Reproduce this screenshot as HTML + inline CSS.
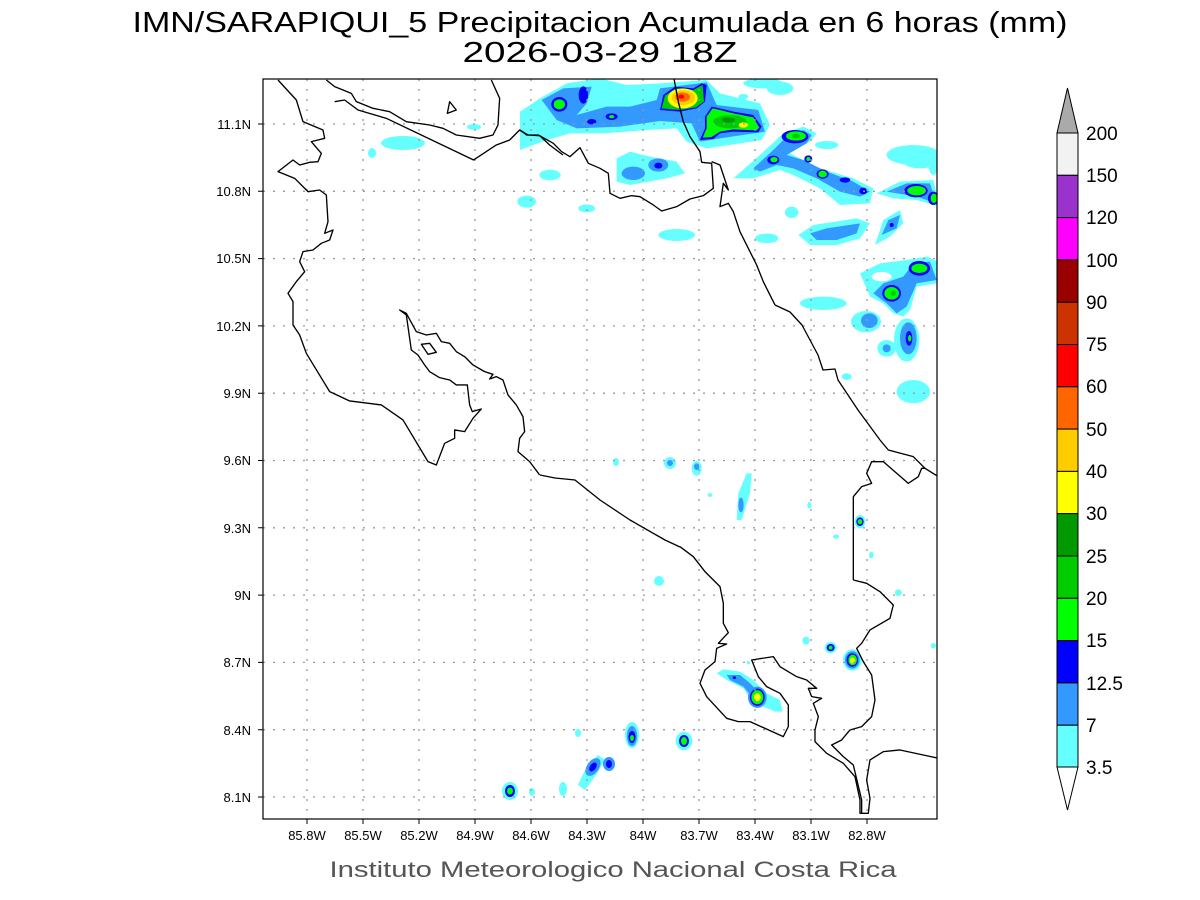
<!DOCTYPE html>
<html><head><meta charset="utf-8"><style>
html,body{margin:0;padding:0;background:#fff;}
svg{display:block;}
</style></head><body>
<svg width="1200" height="900" viewBox="0 0 1200 900" xmlns="http://www.w3.org/2000/svg" font-family="Liberation Sans, sans-serif">
<rect width="1200" height="900" fill="#fff"/>
<text x="600" y="32" font-size="29" text-anchor="middle" textLength="935" lengthAdjust="spacingAndGlyphs" fill="#000">IMN/SARAPIQUI_5 Precipitacion Acumulada en 6 horas (mm)</text>
<text x="600" y="62" font-size="29" text-anchor="middle" textLength="275" lengthAdjust="spacingAndGlyphs" fill="#000">2026-03-29 18Z</text>

<defs><clipPath id="c"><rect x="263" y="79" width="674" height="740"/></clipPath></defs>
<g clip-path="url(#c)">
<g transform="translate(520,75) scale(0.3333)">
<path d="M0,110 L60,70 L140,25 L240,10 L320,30 L420,25 L560,15 L600,55 L720,85 L750,150 L725,195 L660,205 L560,220 L500,200 L470,160 L380,165 L250,175 L150,175 L80,195 L0,225Z" fill="#66ffff"/>
<path d="M65,75 L130,40 L215,35 L200,85 L170,120 L260,95 L330,95 L410,75 L420,40 L560,22 L590,90 L715,105 L735,170 L600,190 L540,200 L515,145 L420,138 L300,155 L170,160 L110,135Z" fill="#3399ff"/>
<ellipse cx="118" cy="88" rx="24" ry="22" fill="#0000ff"/><ellipse cx="118" cy="88" rx="17" ry="15" fill="#00ff00"/>
<ellipse cx="190" cy="60" rx="14" ry="26" fill="#0000ff"/>
<ellipse cx="275" cy="125" rx="18" ry="10" fill="#0000ff"/><ellipse cx="275" cy="125" rx="8" ry="5" fill="#00ff00"/>
<ellipse cx="215" cy="140" rx="14" ry="8" fill="#0000ff"/>
<path d="M420,105 L430,60 L465,35 L520,40 L545,25 L560,30 L555,80 L530,100 L480,110Z" fill="#0000ff"/>
<path d="M425,100 L435,62 L468,40 L520,45 L548,30 L552,80 L528,97 L480,105Z" fill="#00cc00"/>
<ellipse cx="488" cy="70" rx="45" ry="30" fill="#ffff00"/>
<ellipse cx="490" cy="68" rx="35" ry="22" fill="#ffcc00"/>
<ellipse cx="488" cy="66" rx="22" ry="14" fill="#ff6600"/>
<ellipse cx="484" cy="65" rx="9" ry="6" fill="#ff0000"/>
<path d="M540,195 L555,160 L555,125 L575,95 L600,100 L640,110 L700,120 L725,155 L715,172 L640,170 L600,175 L580,192Z" fill="#0000ff"/>
<path d="M548,188 L560,160 L560,125 L578,100 L600,105 L640,115 L700,127 L718,158 L710,166 L640,163 L600,170 L575,186Z" fill="#00ff00"/>
<ellipse cx="630" cy="140" rx="50" ry="20" fill="#00cc00"/><ellipse cx="625" cy="135" rx="20" ry="8" fill="#009900"/>
<ellipse cx="670" cy="150" rx="14" ry="8" fill="#ffff00"/>
<path d="M290,250 L330,230 L390,245 L470,260 L495,295 L440,310 L330,330 L290,320Z" fill="#66ffff"/>
<ellipse cx="340" cy="295" rx="35" ry="20" fill="#3399ff"/>
<ellipse cx="415" cy="270" rx="30" ry="20" fill="#3399ff"/><ellipse cx="415" cy="272" rx="12" ry="9" fill="#0000ff"/>
<ellipse cx="90" cy="300" rx="32" ry="16" fill="#66ffff"/>
<ellipse cx="20" cy="380" rx="28" ry="18" fill="#66ffff"/>
<ellipse cx="200" cy="400" rx="25" ry="12" fill="#66ffff"/>
<ellipse cx="470" cy="480" rx="55" ry="18" fill="#66ffff"/>
<ellipse cx="740" cy="490" rx="35" ry="14" fill="#66ffff"/>
<ellipse cx="815" cy="412" rx="20" ry="16" fill="#66ffff"/>
<path d="M640,310 L720,240 L790,175 L850,155 L890,175 L870,200 L800,230 L840,250 L900,280 L1000,310 L1060,340 L1050,385 L960,390 L900,340 L820,300 L780,285 L700,310Z" fill="#66ffff"/>
<path d="M700,280 L760,225 L800,185 L850,165 L875,180 L860,205 L800,240 L850,255 L920,290 L1000,320 L1050,350 L1020,365 L960,350 L890,310 L820,280 L770,270 L720,290Z" fill="#3399ff"/>
<ellipse cx="825" cy="185" rx="40" ry="20" fill="#0000ff"/><ellipse cx="828" cy="183" rx="30" ry="14" fill="#00ff00"/><ellipse cx="828" cy="183" rx="12" ry="7" fill="#00cc00"/>
<ellipse cx="760" cy="255" rx="18" ry="13" fill="#0000ff"/><ellipse cx="762" cy="254" rx="11" ry="8" fill="#00ff00"/>
<ellipse cx="865" cy="252" rx="12" ry="11" fill="#0000ff"/><ellipse cx="865" cy="252" rx="6" ry="6" fill="#00ff00"/>
<ellipse cx="908" cy="297" rx="18" ry="14" fill="#0000ff"/><ellipse cx="908" cy="297" rx="13" ry="10" fill="#00ff00"/>
<ellipse cx="975" cy="315" rx="16" ry="8" fill="#0000ff"/>
<ellipse cx="1030" cy="348" rx="12" ry="10" fill="#0000ff"/>
<ellipse cx="920" cy="210" rx="35" ry="12" fill="#66ffff"/>
<ellipse cx="730" cy="25" rx="60" ry="15" fill="#66ffff"/>
<ellipse cx="780" cy="40" rx="40" ry="20" fill="#66ffff"/>
<ellipse cx="670" cy="65" rx="15" ry="8" fill="#66ffff"/>
<ellipse cx="1180" cy="240" rx="80" ry="30" fill="#66ffff"/>
</g>
<g transform="translate(760,150) scale(0.3333)">
<path d="M350,130 L420,95 L520,90 L540,170 L470,150 L400,145Z" fill="#66ffff"/>
<path d="M380,125 L440,100 L510,100 L530,160 L470,140Z" fill="#3399ff"/>
<ellipse cx="468" cy="122" rx="35" ry="20" fill="#0000ff"/><ellipse cx="470" cy="122" rx="28" ry="14" fill="#00ff00"/>
<ellipse cx="520" cy="145" rx="16" ry="20" fill="#0000ff"/><ellipse cx="522" cy="145" rx="10" ry="14" fill="#00ff00"/>
<path d="M115,255 L160,225 L290,205 L330,220 L300,265 L230,285 L150,285Z" fill="#66ffff"/>
<path d="M150,250 L200,235 L300,220 L290,250 L230,270 L170,270Z" fill="#3399ff"/>
<ellipse cx="95" cy="187" rx="20" ry="17" fill="#66ffff"/>
<ellipse cx="25" cy="265" rx="30" ry="14" fill="#66ffff"/>
<path d="M345,285 L370,210 L420,180 L430,220 L390,260Z" fill="#66ffff"/>
<path d="M365,255 L385,210 L420,195 L410,235Z" fill="#3399ff"/>
<ellipse cx="395" cy="225" rx="6" ry="6" fill="#0000ff"/>
<path d="M300,370 L360,340 L440,330 L500,320 L535,335 L530,400 L470,410 L450,480 L430,500 L400,490 L370,460 L330,440Z" fill="#66ffff"/>
<path d="M340,430 L370,400 L430,380 L460,340 L510,335 L530,390 L470,400 L440,470 L410,490 L380,460Z" fill="#3399ff"/>
<ellipse cx="395" cy="430" rx="28" ry="25" fill="#0000ff"/><ellipse cx="395" cy="430" rx="22" ry="19" fill="#00ff00"/><ellipse cx="400" cy="430" rx="8" ry="8" fill="#00cc00"/>
<ellipse cx="478" cy="355" rx="32" ry="22" fill="#0000ff"/><ellipse cx="478" cy="355" rx="24" ry="14" fill="#00ff00"/>
<ellipse cx="365" cy="380" rx="30" ry="14" fill="#fff"/>
<ellipse cx="440" cy="570" rx="38" ry="65" fill="#66ffff"/><ellipse cx="445" cy="565" rx="25" ry="48" fill="#3399ff"/><ellipse cx="447" cy="565" rx="10" ry="22" fill="#0000ff"/><ellipse cx="449" cy="565" rx="5" ry="10" fill="#00ff00"/>
<ellipse cx="318" cy="515" rx="45" ry="32" fill="#66ffff"/><ellipse cx="328" cy="512" rx="25" ry="22" fill="#3399ff"/>
<ellipse cx="190" cy="460" rx="70" ry="20" fill="#66ffff"/>
<ellipse cx="380" cy="595" rx="28" ry="25" fill="#66ffff"/><ellipse cx="380" cy="595" rx="12" ry="12" fill="#3399ff"/>
<ellipse cx="460" cy="725" rx="50" ry="35" fill="#66ffff"/>
<ellipse cx="260" cy="680" rx="15" ry="10" fill="#66ffff"/>
<ellipse cx="480" cy="35" rx="50" ry="20" fill="#66ffff"/>
<ellipse cx="520" cy="40" rx="15" ry="35" fill="#66ffff"/>
</g>
<ellipse cx="403" cy="143" rx="22" ry="7" fill="#66ffff"/>
<ellipse cx="372" cy="153" rx="4" ry="5" fill="#66ffff"/>
<ellipse cx="474" cy="127" rx="7" ry="3" fill="#66ffff"/>
<g transform="translate(680,440) scale(0.3333)">
<ellipse cx="50" cy="85" rx="15" ry="22" fill="#66ffff"/><ellipse cx="50" cy="80" rx="8" ry="10" fill="#3399ff"/>
<path d="M170,240 L175,160 L200,100 L215,100 L210,160 L185,240Z" fill="#66ffff"/>
<ellipse cx="183" cy="195" rx="8" ry="22" fill="#3399ff"/>
<ellipse cx="90" cy="165" rx="7" ry="6" fill="#66ffff"/>
<ellipse cx="540" cy="245" rx="16" ry="20" fill="#66ffff"/><ellipse cx="540" cy="245" rx="11" ry="13" fill="#0000ff"/><ellipse cx="540" cy="245" rx="7" ry="8" fill="#00ff00"/>
<ellipse cx="388" cy="196" rx="6" ry="10" fill="#66ffff"/>
<ellipse cx="468" cy="290" rx="9" ry="6" fill="#66ffff"/>
<ellipse cx="574" cy="345" rx="7" ry="10" fill="#66ffff"/>
<ellipse cx="655" cy="458" rx="10" ry="10" fill="#66ffff"/>
<ellipse cx="378" cy="602" rx="11" ry="12" fill="#66ffff"/>
<ellipse cx="452" cy="623" rx="18" ry="17" fill="#66ffff"/><ellipse cx="452" cy="623" rx="12" ry="11" fill="#0000ff"/><ellipse cx="452" cy="623" rx="6" ry="6" fill="#00ff00"/>
<ellipse cx="517" cy="660" rx="28" ry="32" fill="#66ffff"/><ellipse cx="517" cy="660" rx="22" ry="26" fill="#3399ff"/><ellipse cx="517" cy="660" rx="17" ry="20" fill="#0000ff"/><ellipse cx="518" cy="660" rx="13" ry="16" fill="#00ff00"/><ellipse cx="518" cy="662" rx="8" ry="9" fill="#ffff00"/>
<path d="M110,700 L130,688 L180,695 L220,720 L260,760 L300,780 L308,815 L285,815 L250,800 L220,790 L190,745 L140,720Z" fill="#66ffff"/>
<path d="M140,705 L180,705 L210,730 L230,750 L215,770 L190,740 L150,720Z" fill="#3399ff"/>
<ellipse cx="163" cy="713" rx="5" ry="4" fill="#0000ff"/>
<ellipse cx="232" cy="772" rx="28" ry="32" fill="#3399ff"/><ellipse cx="232" cy="772" rx="22" ry="26" fill="#0000ff"/><ellipse cx="232" cy="772" rx="18" ry="21" fill="#00ff00"/><ellipse cx="232" cy="772" rx="10" ry="12" fill="#ffff00"/>
<ellipse cx="12" cy="903" rx="25" ry="28" fill="#66ffff"/><ellipse cx="12" cy="903" rx="18" ry="20" fill="#0000ff"/><ellipse cx="12" cy="903" rx="13" ry="15" fill="#00ff00"/><ellipse cx="14" cy="903" rx="7" ry="8" fill="#ffff00"/>
<ellipse cx="760" cy="617" rx="8" ry="8" fill="#66ffff"/>
<ellipse cx="205" cy="668" rx="5" ry="5" fill="#66ffff"/>
</g>
<ellipse cx="510" cy="791" rx="8" ry="9" fill="#66ffff"/><ellipse cx="510" cy="791" rx="5" ry="6" fill="#0000ff"/><ellipse cx="510" cy="791" rx="3" ry="3.5" fill="#00ff00"/>
<path d="M578,785 L585,770 L598,755 L605,760 L596,775 L585,790Z" fill="#66ffff"/>
<ellipse cx="593" cy="767" rx="6" ry="10" fill="#3399ff" transform="rotate(35 593 767)"/>
<ellipse cx="593" cy="767" rx="3" ry="5" fill="#0000ff" transform="rotate(35 593 767)"/>
<ellipse cx="609" cy="764" rx="6" ry="7" fill="#3399ff"/><ellipse cx="609" cy="764" rx="3" ry="4" fill="#0000ff"/>
<ellipse cx="632" cy="735" rx="7" ry="13" fill="#66ffff"/><ellipse cx="632" cy="736" rx="5" ry="10" fill="#3399ff"/><ellipse cx="632" cy="737" rx="3.5" ry="6" fill="#0000ff"/><ellipse cx="632" cy="738" rx="2" ry="3" fill="#00ff00"/>
<ellipse cx="684" cy="741" rx="8" ry="9" fill="#66ffff"/><ellipse cx="684" cy="741" rx="5" ry="6" fill="#0000ff"/><ellipse cx="684" cy="741" rx="3" ry="4" fill="#00ff00"/>
<ellipse cx="659" cy="581" rx="5" ry="5" fill="#66ffff"/>
<ellipse cx="578" cy="733" rx="3" ry="4" fill="#66ffff"/>
<ellipse cx="563" cy="789" rx="4" ry="7" fill="#66ffff"/>
<ellipse cx="532" cy="792" rx="3" ry="4" fill="#66ffff"/>
<ellipse cx="670" cy="463" rx="6" ry="6" fill="#66ffff"/><ellipse cx="670" cy="463" rx="3" ry="3" fill="#3399ff"/>
<ellipse cx="616" cy="462" rx="3" ry="4" fill="#66ffff"/>
</g>

<g stroke="#999" stroke-width="1.3" stroke-dasharray="2,8">
<path d="M307,79V819M363,79V819M419,79V819M475,79V819M531,79V819M587,79V819M643,79V819M699,79V819M755,79V819M811,79V819M867,79V819"/>
<path d="M263,124H937M263,191.3H937M263,258.6H937M263,325.9H937M263,393.2H937M263,460.5H937M263,527.8H937M263,595.1H937M263,662.4H937M263,729.7H937M263,797H937"/>
</g>

<g clip-path="url(#c)" fill="none" stroke="#000" stroke-width="1.3" stroke-linejoin="round">
<polyline points="540,475 555,478 575,480 600,500 630,520 665,540 680,547"/>
<polyline points="775,305 790,312 802,325 818,355 823,370 835,369 838,380 858,410 880,440"/>
</g>
<g clip-path="url(#c)" fill="none" stroke="#000" stroke-width="4" stroke-linejoin="round">
<g transform="translate(263,75) scale(0.3333)">
<polyline points="45,15 100,75 120,140 180,165 185,190 165,195 145,200 175,235 165,260 140,262 110,270 90,255 45,290 95,310 135,350 170,345 190,360 195,440 185,475 210,465 200,495 175,505 150,525 120,530 110,560 125,590 100,620 75,655 90,680 90,750 110,780 130,835 200,950 260,978 355,990 420,1035 495,1160 520,1170 545,1105 575,1090 575,1065 605,1070 630,1030 655,1002 628,1010 620,990 613,930 580,930 560,915 530,908 500,890 485,870 465,840 445,825 430,720 410,705 430,715 460,770 490,780 520,775 535,800 560,805 580,830 605,845 630,870 665,890 690,898 680,912 700,905 720,915 735,960 760,990 780,1025 785,1070 770,1090 765,1130 800,1160 830,1200"/>
<polygon points="475,808 500,805 520,832 495,838"/>
<polyline points="190,15 215,35 265,55 280,80 330,100 380,110 430,140 500,150 540,160 580,180 650,190 690,180 705,150 710,70 685,15"/>
<polyline points="215,80 245,75 285,105 370,130 632,255 700,210 740,195 770,165 795,180 830,182 860,210 900,240"/>
<polygon points="560,80 580,105 553,115"/>
</g>
<g transform="translate(520,75) scale(0.3333)">
<polyline points="0,165 20,180 55,180 100,205 125,230 150,245 180,218 205,265 240,280 265,295 270,355 300,370 335,362 360,365 400,390 425,408 470,395 510,372 550,362 580,340 575,265 545,262 540,230 510,185 490,140 475,80 460,0"/>
<polyline points="575,260 600,270 610,300 625,345 610,325 600,395 625,385 640,410 660,470 685,520 710,570 730,620 765,690"/>
</g>
<g transform="translate(680,440) scale(0.3333)">
<polyline points="600,0 625,30 700,50 735,85 775,110"/>
<polyline points="520,420 520,170 545,140 575,130 560,100 575,65 610,65 685,130 715,110 725,85 735,85"/>
<polyline points="0,320 40,350 75,395 120,440 130,490 130,550 145,578 115,610 140,612 110,625 105,665 75,690 60,730 80,770 140,835 175,845 210,845 310,890 325,860 325,795 300,760 260,740 235,710 215,660 280,650 300,680 350,710 380,720 410,745 385,745 395,770 425,775 400,790 415,830 405,870 405,905 440,940 490,970 525,1010 540,1080 540,1120 565,1120 570,1075 560,1020 570,960 610,935 660,930 730,945 777,955"/>
<polyline points="520,420 560,430 600,455 640,495 630,535 570,570 545,610 530,625 550,665 575,705 585,780 575,830 545,860 510,870 485,900 455,915 490,950 520,975 545,1080 545,1120"/>
</g>
</g>

<rect x="263" y="79" width="674" height="740" fill="none" stroke="#000" stroke-width="1.2"/>
<g stroke="#000" stroke-width="1">
<path d="M307,819v5M363,819v5M419,819v5M475,819v5M531,819v5M587,819v5M643,819v5M699,819v5M755,819v5M811,819v5M867,819v5"/>
<path d="M263,124h-5M263,191.3h-5M263,258.6h-5M263,325.9h-5M263,393.2h-5M263,460.5h-5M263,527.8h-5M263,595.1h-5M263,662.4h-5M263,729.7h-5M263,797h-5"/>
</g>
<g font-size="13" fill="#000" text-anchor="end">
<text x="251" y="129">11.1N</text><text x="251" y="196">10.8N</text><text x="251" y="263">10.5N</text><text x="251" y="331">10.2N</text><text x="251" y="398">9.9N</text><text x="251" y="465">9.6N</text><text x="251" y="533">9.3N</text><text x="251" y="600">9N</text><text x="251" y="667">8.7N</text><text x="251" y="735">8.4N</text><text x="251" y="802">8.1N</text>
</g>
<g font-size="13" fill="#000" text-anchor="middle">
<text x="307" y="840">85.8W</text><text x="363" y="840">85.5W</text><text x="419" y="840">85.2W</text><text x="475" y="840">84.9W</text><text x="531" y="840">84.6W</text><text x="587" y="840">84.3W</text><text x="643" y="840">84W</text><text x="699" y="840">83.7W</text><text x="755" y="840">83.4W</text><text x="811" y="840">83.1W</text><text x="867" y="840">82.8W</text>
</g>
<text x="613" y="877" font-size="22" text-anchor="middle" fill="#555" textLength="567" lengthAdjust="spacingAndGlyphs">Instituto Meteorologico Nacional Costa Rica</text>

<g stroke="#000" stroke-width="1">
<polygon points="1057,133 1078,133 1067.5,88" fill="#aaaaaa"/>
<rect x="1057" y="133" width="21" height="42.3" fill="#f2f2f2"/>
<rect x="1057" y="175.3" width="21" height="42.3" fill="#9933cc"/>
<rect x="1057" y="217.6" width="21" height="42.3" fill="#ff00ff"/>
<rect x="1057" y="259.9" width="21" height="42.3" fill="#990000"/>
<rect x="1057" y="302.2" width="21" height="42.3" fill="#cc3300"/>
<rect x="1057" y="344.5" width="21" height="42.3" fill="#ff0000"/>
<rect x="1057" y="386.8" width="21" height="42.3" fill="#ff6600"/>
<rect x="1057" y="429.1" width="21" height="42.3" fill="#ffcc00"/>
<rect x="1057" y="471.4" width="21" height="42.3" fill="#ffff00"/>
<rect x="1057" y="513.7" width="21" height="42.3" fill="#009900"/>
<rect x="1057" y="556" width="21" height="42.3" fill="#00cc00"/>
<rect x="1057" y="598.3" width="21" height="42.3" fill="#00ff00"/>
<rect x="1057" y="640.6" width="21" height="42.3" fill="#0000ff"/>
<rect x="1057" y="682.9" width="21" height="42.3" fill="#3399ff"/>
<rect x="1057" y="725.2" width="21" height="41.8" fill="#66ffff"/>
<polygon points="1057,767 1078,767 1067.5,810" fill="#fff"/>
</g>
<g font-size="19" fill="#000">
<text x="1086" y="140">200</text><text x="1086" y="182">150</text><text x="1086" y="224">120</text><text x="1086" y="267">100</text><text x="1086" y="309">90</text><text x="1086" y="351">75</text><text x="1086" y="393">60</text><text x="1086" y="436">50</text><text x="1086" y="478">40</text><text x="1086" y="520">30</text><text x="1086" y="563">25</text><text x="1086" y="605">20</text><text x="1086" y="647">15</text><text x="1086" y="690">12.5</text><text x="1086" y="732">7</text><text x="1086" y="774">3.5</text>
</g>
</svg>
</body></html>
